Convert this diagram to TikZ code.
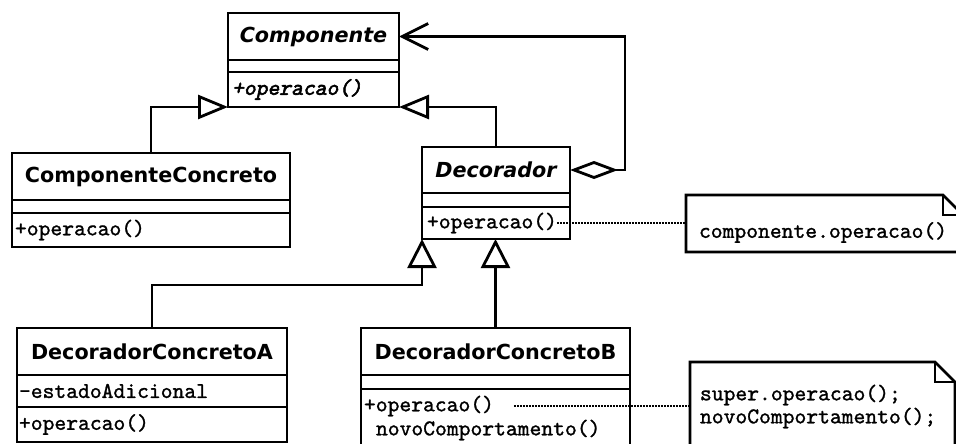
\documentclass[tikz,border=0pt]{standalone}
\usepackage{fontspec}
\newfontfamily\clsfont{DejaVu Sans}
\newfontfamily\monof{lmmono10-regular.otf}[FakeBold=1.2]
\newfontfamily\monobi{lmmono10-regular.otf}[FakeBold=2.6,FakeSlant=0.22]
\usetikzlibrary{arrows.meta,calc}
\begin{document}
\begin{tikzpicture}[x=1pt,y=-1pt,
  box/.style={draw,line width=2.8pt,outer sep=0pt,inner sep=0pt,anchor=north west,fill=white},
  cname/.style={font=\clsfont\bfseries\fontsize{20.7}{24}\selectfont},
  cnamei/.style={font=\clsfont\bfseries\itshape\fontsize{20.7}{24}\selectfont},
  mono/.style={font=\monof\fontsize{22.5}{26}\selectfont,inner sep=0pt,outer sep=0pt,anchor=west},
  monobi/.style={font=\monobi\fontsize{22.5}{26}\selectfont,inner sep=0pt,outer sep=0pt,anchor=west},
  noteframe/.style={inner sep=0pt,outer sep=0pt,anchor=north west},
  noteline/.style={draw,line width=2.8pt,fill=white,line join=miter},
  inherit/.style={line width=2.8pt,-{Triangle[open,length=30pt,width=24pt,fill=white]}},
  inheritv/.style={line width=2.8pt,-{Triangle[open,length=29pt,width=29pt,fill=white]}},
  assoc/.style={line width=2.8pt,{Diamond[open,length=48pt,width=18pt,fill=white]}-{Straight Barb[length=26pt,width=26pt]}},
  dotline/.style={line width=2.6pt,dash pattern=on 2pt off 1pt}
]
\useasboundingbox (0,0) rectangle (956,444);
\fill[white] (0,0) rectangle (956,444);

% Componente
\node[box,minimum width=171pt,minimum height=47pt,cnamei] (compN) at (228,13) {Componente};
\node[box,minimum width=171pt,minimum height=12pt] (compA) at (compN.south west) {};
\node[box,minimum width=171pt,minimum height=35pt] (compM) at (compA.south west) {};
\node[monobi] (compOp) at ($(compM.west)+(4,0)$) {+operacao()};

% ComponenteConcreto
\node[box,minimum width=278pt,minimum height=47pt,cname] (ccN) at (12,153) {ComponenteConcreto};
\node[box,minimum width=278pt,minimum height=13pt] (ccA) at (ccN.south west) {};
\node[box,minimum width=278pt,minimum height=34pt] (ccM) at (ccA.south west) {};
\node[mono] (ccOp) at ($(ccM.west)+(3,0)$) {+operacao()};

% Decorador
\node[box,minimum width=148pt,minimum height=46pt,cnamei] (decN) at (422,147) {Decorador};
\node[box,minimum width=148pt,minimum height=14pt] (decA) at (decN.south west) {};
\node[box,minimum width=148pt,minimum height=32pt] (decM) at (decA.south west) {};
\node[mono] (decOp) at ($(decM.west)+(5,0)$) {+operacao()};

% DecoradorConcretoA
\node[box,minimum width=270pt,minimum height=47pt,cname] (dcaN) at (17,328) {DecoradorConcretoA};
\node[box,minimum width=270pt,minimum height=32pt] (dcaA) at (dcaN.south west) {};
\node[box,minimum width=270pt,minimum height=35pt] (dcaM) at (dcaA.south west) {};
\node[mono] (dcaAttr) at ($(dcaA.west)+(2,0)$) {-estadoAdicional};
\node[mono] (dcaOp) at ($(dcaM.west)+(2,0)$) {+operacao()};

% DecoradorConcretoB
\node[box,minimum width=269pt,minimum height=47pt,cname] (dcbN) at (361,328) {DecoradorConcretoB};
\node[box,minimum width=269pt,minimum height=14pt] (dcbA) at (dcbN.south west) {};
\node[box,minimum width=269pt,minimum height=61pt] (dcbM) at (dcbA.south west) {};
\node[mono] (dcbOp) at ($(dcbM.north west)+(3,17)$) {+operacao()};
\node[mono] (dcbNovo) at ($(dcbM.north west)+(15,41)$) {novoComportamento()};

% Note 1
\node[noteframe,minimum width=277pt,minimum height=57pt] (note1) at (686,195) {};
\path[noteline] (note1.north west) -- ($(note1.north east)+(-20,0)$) -- ($(note1.north east)+(0,20)$) -- (note1.south east) -- (note1.south west) -- cycle;
\draw[line width=2.8pt] ($(note1.north east)+(-20,0)$) |- ($(note1.north east)+(0,20)$);
\node[mono] (note1txt) at ($(note1.west)+(13,9)$) {componente.operacao()};

% Note 2
\node[noteframe,minimum width=265pt,minimum height=88pt] (note2) at (690,362) {};
\path[noteline] (note2.north west) -- ($(note2.north east)+(-20,0)$) -- ($(note2.north east)+(0,20)$) -- (note2.south east) -- (note2.south west) -- cycle;
\draw[line width=2.8pt] ($(note2.north east)+(-20,0)$) |- ($(note2.north east)+(0,20)$);
\node[mono] (note2a) at ($(note2.north west)+(10,33)$) {super.operacao();};
\node[mono] (note2b) at ($(note2.north west)+(10,56)$) {novoComportamento();};

% connectors
\coordinate (assocC) at (625,36.5);
\draw[assoc] (decN.east) -| (assocC) -- (compN.east);
\draw[inherit] (ccN.north) |- (compM.south west);
\draw[inherit] (decN.north) |- (compM.south east);
\coordinate (bendA) at (422,285);
\draw[inheritv] (dcaN.north) |- (bendA) -- (decM.south west);
\draw[inheritv] (dcbN.north) -- (dcbN.north |- decM.south);
\draw[dotline] (decOp.east) -- (decOp.east -| note1.west);
\draw[dotline] ($(dcbOp.east)+(20,0)$) -- (dcbOp.east -| note2.west);
\end{tikzpicture}
\end{document}
